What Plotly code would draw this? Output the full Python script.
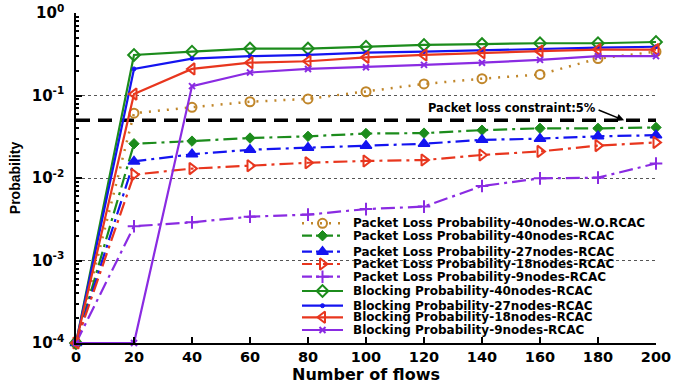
import plotly.graph_objects as go

flows = [0, 20, 40, 60, 80, 100, 120, 140, 160, 180, 200]

pl_40_wo = [1e-4, 0.061, 0.072, 0.084, 0.091, 0.111, 0.138, 0.16, 0.18, 0.28, 0.34]
pl_40 = [1e-4, 0.026, 0.028, 0.0305, 0.032, 0.0346, 0.035, 0.038, 0.040, 0.040, 0.041]
pl_27 = [1e-4, 0.0159, 0.0194, 0.022, 0.0233, 0.0246, 0.026, 0.029, 0.030, 0.032, 0.033]
pl_18 = [1e-4, 0.011, 0.013, 0.0141, 0.0153, 0.0161, 0.0165, 0.019, 0.021, 0.0247, 0.027]
pl_9 = [1e-4, 0.0026, 0.0029, 0.0034, 0.0036, 0.0042, 0.0045, 0.0080, 0.0099, 0.0101, 0.015]
bp_40 = [1e-4, 0.31, 0.34, 0.37, 0.37, 0.39, 0.41, 0.42, 0.43, 0.43, 0.445]
bp_27 = [1e-4, 0.21, 0.28, 0.30, 0.31, 0.33, 0.34, 0.355, 0.37, 0.38, 0.39]
bp_18 = [1e-4, 0.104, 0.21, 0.25, 0.26, 0.29, 0.31, 0.33, 0.345, 0.36, 0.36]
bp_9 = [1e-4, 1e-4, 0.13, 0.19, 0.21, 0.22, 0.235, 0.25, 0.27, 0.30, 0.30]

threshold_x = [0, 200]
threshold_y = [0.05, 0.05]
threshold_label = "Packet loss constraint:5%"
arrow_x = 189

names = [
    "Packet Loss Probability-40nodes-W.O.RCAC",
    "Packet Loss Probability-40nodes-RCAC",
    "Packet Loss Probability-27nodes-RCAC",
    "Packet Loss Probability-18nodes-RCAC",
    "Packet Loss Probability-9nodes-RCAC",
    "Blocking Probability-40nodes-RCAC",
    "Blocking Probability-27nodes-RCAC",
    "Blocking Probability-18nodes-RCAC",
    "Blocking Probability-9nodes-RCAC",
]
series = [pl_40_wo, pl_40, pl_27, pl_18, pl_9, bp_40, bp_27, bp_18, bp_9]

y_tickvals = [1e-4, 1e-3, 1e-2, 1e-1, 1]
y_ticktext = ["10<sup>-4</sup>", "10<sup>-3</sup>", "10<sup>-2</sup>", "10<sup>-1</sup>", "10<sup>0</sup>"]
x_tickvals = [0, 20, 40, 60, 80, 100, 120, 140, 160, 180, 200]

GREEN = "#1c8c1c"
BLUE = "#1414f0"
RED = "#e8361e"
PURPLE = "#8a2be2"
ORANGE = "#c0862a"
DD = "14px,5px,3px,5px"
FONT = "Liberation Sans, Arial"
WIDE = "DejaVu Sans, Verdana"

styles = [
    dict(color=ORANGE, dash="2px,7px", width=2.5, symbol="circle-open", size=9, mlw=2),
    dict(color=GREEN, dash=DD, width=2.2, symbol="diamond", size=8, mlw=1),
    dict(color=BLUE, dash=DD, width=2.2, symbol="triangle-up", size=10, mlw=1.5),
    dict(color=RED, dash=DD, width=2.2, symbol="triangle-right-open", size=10, mlw=2),
    dict(color=PURPLE, dash=DD, width=2.2, symbol="cross-thin-open", size=9, mlw=2),
    dict(color=GREEN, dash="solid", width=2.2, symbol="diamond-open", size=9, mlw=2),
    dict(color=BLUE, dash="solid", width=2.2, symbol="circle", size=4, mlw=1),
    dict(color=RED, dash="solid", width=2.2, symbol="triangle-left-open", size=10, mlw=2),
    dict(color=PURPLE, dash="solid", width=2.2, symbol="x-thin-open", size=6, mlw=2),
]

fig = go.Figure()

fig.add_trace(go.Scatter(
    x=threshold_x, y=threshold_y, mode="lines",
    line=dict(color="black", width=3.5, dash="14px,8px"),
    showlegend=False, hoverinfo="skip",
))

for name, ys, st in zip(names, series, styles):
    fig.add_trace(go.Scatter(
        x=flows, y=ys, mode="lines+markers", name=name,
        line=dict(color=st["color"], width=st["width"], dash=st["dash"]),
        marker=dict(symbol=st["symbol"], size=st["size"], color=st["color"],
                    line=dict(color=st["color"], width=st["mlw"])),
        showlegend=False, cliponaxis=False,
    ))

# custom compact legend (glyphs on an overlay axis in plot-fraction units)
leg_y_px = [223.3, 235.7, 251.7, 264, 276.7, 291, 305.7, 317.3, 330]
PL_LEFT, PL_TOP, PL_W, PL_H = 76, 13, 580, 330
gx0 = (302 - PL_LEFT) / PL_W
gx1 = (343 - PL_LEFT) / PL_W
tx = (351 - PL_LEFT) / PL_W
annotations = []
for name, st, ypx in zip(names, styles, leg_y_px):
    yf = (PL_TOP + PL_H - ypx) / PL_H
    fig.add_trace(go.Scatter(
        x=[gx0, (gx0 + gx1) / 2, gx1], y=[yf, yf, yf], mode="lines+markers",
        xaxis="x2", yaxis="y2",
        line=dict(color=st["color"], width=st["width"],
                  dash=st["dash"] if st["dash"] != DD else "10px,4px,3px,4px"),
        marker=dict(symbol=st["symbol"], size=st["size"], color=st["color"],
                    opacity=[0, 1, 0], line=dict(color=st["color"], width=st["mlw"])),
        showlegend=False, hoverinfo="skip",
    ))
    annotations.append(dict(
        x=tx, y=yf, xref="paper", yref="paper", text=name, showarrow=False,
        xanchor="left", yanchor="middle",
        font=dict(family=WIDE, size=12, color="black", weight="bold"),
    ))

# threshold label and its arrow
annotations.append(dict(
    x=(598 - PL_LEFT) / 2.9, y=-(108 - PL_TOP) / 82.5, xref="x", yref="y",
    text=threshold_label, showarrow=False, xanchor="right", yanchor="middle",
    font=dict(family=WIDE, size=11.5, color="black", weight="bold"),
))
annotations.append(dict(
    x=arrow_x, y=-1.30103, xref="x", yref="y", text="",
    showarrow=True, arrowhead=2, arrowsize=1, arrowwidth=1.5, arrowcolor="black",
    ax=-27, ay=-11, standoff=0,
))

minor_vals = [m * 10 ** e for e in range(-4, 0) for m in range(2, 10)]

fig.update_layout(
    width=692, height=390,
    margin=dict(l=76, r=36, t=13, b=47),
    paper_bgcolor="white", plot_bgcolor="white",
    font=dict(family=FONT, color="black"),
    showlegend=False,
    annotations=annotations,
    xaxis=dict(
        range=[0, 200], tickmode="array", tickvals=x_tickvals, automargin=False,
        ticks="inside", ticklen=6, tickcolor="black", tickwidth=1.5,
        showline=True, linecolor="black", linewidth=1.5, showgrid=False, zeroline=False,
        tickfont=dict(size=14.5, weight="bold", family=WIDE),
        title=dict(text="Number of flows", standoff=3,
                   font=dict(size=16, weight="bold", family=WIDE)),
    ),
    yaxis=dict(
        type="log", range=[-4, 0], tickmode="array", tickvals=y_tickvals, ticktext=y_ticktext,
        automargin=False, ticklabelstandoff=7,
        ticks="inside", ticklen=6, tickcolor="black", tickwidth=1.5,
        showline=True, linecolor="black", linewidth=1.5,
        showgrid=True, gridcolor="#555555", griddash="dot", gridwidth=1, zeroline=False,
        minor=dict(tickmode="array", tickvals=minor_vals, ticks="inside", ticklen=3,
                   tickcolor="black", showgrid=False),
        tickfont=dict(size=15, weight="bold", family=WIDE),
        title=dict(text="Probability", standoff=8,
                   font=dict(size=14, weight="bold", family=FONT)),
    ),
    xaxis2=dict(overlaying="x", anchor="y2", range=[0, 1], visible=False),
    yaxis2=dict(overlaying="y", anchor="x2", range=[0, 1], visible=False),
)

fig.write_html("out.html", config={"displayModeBar": False},
               post_script="document.body.style.margin='0';document.body.style.overflow='hidden';")
